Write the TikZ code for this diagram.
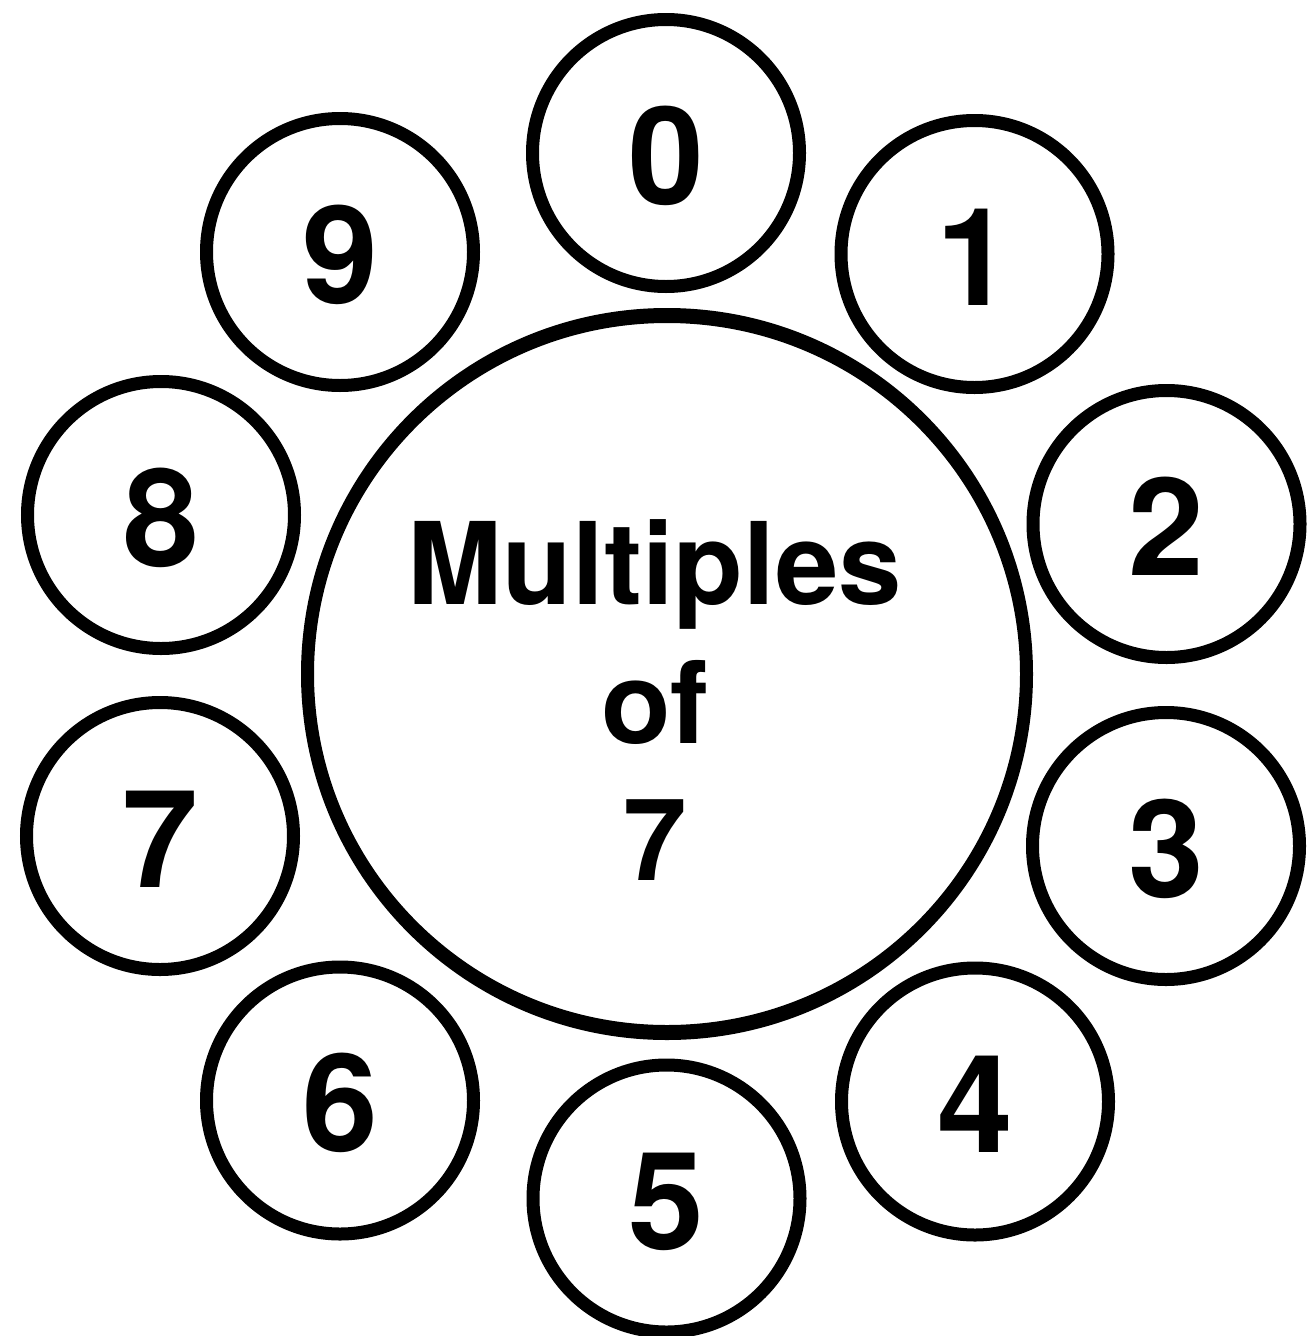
\documentclass[tikz,border=0pt]{standalone}
\usepackage{fontspec}
\setmainfont{TeX Gyre Heros}
\begin{document}
\begin{tikzpicture}[x=1pt,y=-1pt,
  numcircle/.style={circle, draw=black, line width=13pt, minimum size=267pt, inner sep=0pt,
    font=\fontsize{136}{136}\selectfont\bfseries, text height=102pt, text depth=0pt},
  bigtext/.style={anchor=base, inner sep=0pt, font=\fontsize{114}{138}\selectfont\bfseries}]
\fill[white] (0,0) rectangle (1307,1336);
\useasboundingbox (0,0) rectangle (1307,1336);
% central circle
\node[circle, minimum size=719pt, inner sep=0pt] (main) at (667,674) {};
\fill[black, even odd rule] (main.center) circle [radius=366pt]
  (main.center) ellipse [x radius=353pt, y radius=351pt];
\node[bigtext] (t1) at (655,604) {Multiples};
\node[bigtext] (t2) at (655,743) {of};
\node[bigtext] (t3) at (655,880) {7};
% digit circles
\node[numcircle] (n0) at (666,153) {0};
\node[numcircle] (n1) at (974.5,254) {1};
\node[numcircle] (n2) at (1166.5,524) {2};
\node[numcircle] (n3) at (1166,846) {3};
\node[numcircle] (n4) at (975,1101.5) {4};
\node[numcircle] (n5) at (666.5,1198.5) {5};
\node[numcircle] (n6) at (340,1100.5) {6};
\node[numcircle] (n7) at (160,836) {7};
\node[numcircle] (n8) at (161,515) {8};
\node[numcircle] (n9) at (340,252) {9};
\end{tikzpicture}
\end{document}
